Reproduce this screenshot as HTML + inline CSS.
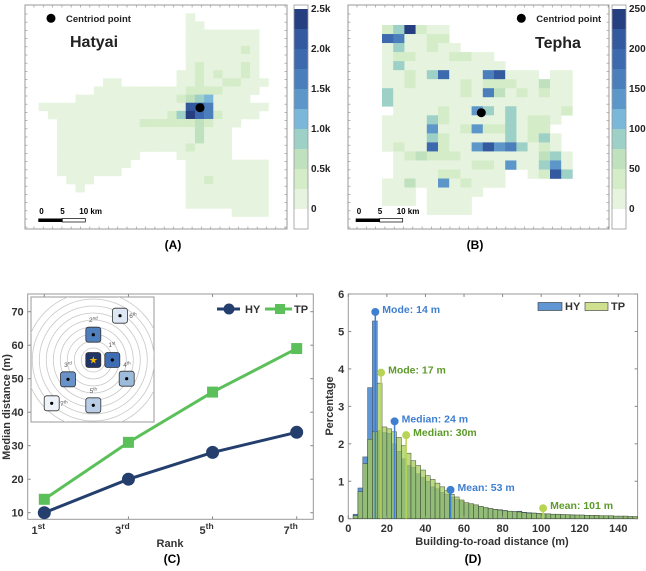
<!DOCTYPE html>
<html><head><meta charset="utf-8"><style>
html,body{margin:0;padding:0;background:#fff;}
svg{display:block;font-family:"Liberation Sans",sans-serif;}
</style></head><body>
<svg id="fig" width="646" height="571" viewBox="0 0 646 571" xmlns="http://www.w3.org/2000/svg">
<g id="pA"></g>
<g id="pB"></g>
<g id="pC"></g>
<g id="pD"></g>
</svg>
<script>
// ---------- data ----------
const levelColors = ['#ffffff','#e6f4df','#d5ecc9','#bfe1bd','#9dd0c6','#7ab7d8','#5d97c9','#4a7fbb','#3d6aaf','#33599f','#253f80'];
const hyRows = [
".................1........",
".................11.......",
".................11111111.",
".................11111111.",
".................11111121.",
".................11111111.",
".................12111121.",
"................112121121.",
"........11......1121122111",
".......111111111122221111.",
".....1111111111123451111..",
".1111111111111111997111111",
"..11111111111112408721111.",
"...11111111122222232111...",
"...1111111111111113111....",
"...1111111111111113111....",
"...1111111111111121111....",
"...111111111....111111....",
"...11111111......111111111",
"...1111111.......111111111",
"....111..........112111111",
".....1...........111111111",
".................111111111",
".................111111111",
"......................1111"];
const tpRows = [
"240211...........",
"871122...........",
"1411211..........",
"1221112211.......",
"14111111111......",
"11214811179111.11",
"11211112122211311",
"41111112173121211",
"41111111111111111",
".1111211641411112",
"1111421111141221.",
"111161126224122..",
"1111421111141241.",
"1211821169674121.",
".1232221111111341",
".1111111221611461",
".1111221111..1294",
"11311612111......",
"111.11111........",
"111.1111.........",
"....1111........."];
const rankLabels = ['1st','3rd','5th','7th'];
const rankVals = [1,3,5,7];
const hyMedian = [10,20,28,34];
const tpMedian = [14,31,46,59];
const hyHist = [0,0.12,0.82,1.65,3.5,5.28,2.35,2.3,2.28,2.0,1.8,1.6,1.42,1.37,1.2,1.1,1.0,0.85,0.8,0.7,0.65,0.58,0.52,0.47,0.4,0.38,0.35,0.32,0.28,0.27,0.25,0.24,0.22,0.2,0.19,0.2,0.17,0.16,0.15,0.14,0.13,0.12,0.12,0.11,0.11,0.1,0.1,0.09,0.09,0.09,0.08,0.08,0.07,0.07,0.07,0.06,0.06,0.05,0.05,0.04];
const tpHist = [0,0.08,0.72,1.47,2.12,2.32,3.62,2.45,2.4,2.32,2.17,1.95,1.75,1.55,1.42,1.3,1.15,1.05,0.95,0.85,0.75,0.65,0.58,0.5,0.43,0.4,0.37,0.33,0.3,0.27,0.25,0.23,0.21,0.2,0.19,0.18,0.16,0.15,0.15,0.14,0.13,0.13,0.12,0.12,0.11,0.11,0.1,0.1,0.1,0.09,0.09,0.09,0.08,0.08,0.08,0.07,0.07,0.07,0.06,0.06];
const binWidth = 2.5;
const statsX = [14,17,24,30,53,101];
const statsY = [5.52,3.9,2.6,2.23,0.77,0.28];
const statsLabels = ['Mode: 14 m','Mode: 17 m','Median: 24 m','Median: 30m','Mean: 53 m','Mean: 101 m'];
const statsSeries = ['HY','TP','HY','TP','HY','TP'];

const NS='http://www.w3.org/2000/svg';
function mk(parent,tag,attrs,text){const e=document.createElementNS(NS,tag);for(const k in attrs)e.setAttribute(k,attrs[k]);if(text!==undefined)e.textContent=text;parent.appendChild(e);return e;}

function drawMap(g, rows, x0, y0, cw, ch, box, cbX, cbLabels, dot, legendX, legendY, title, titleX, titleY, sbX, panel, panelX){
  let el;
  el=mk(g,'rect',{x:box[0],y:box[1],width:box[2]-box[0],height:box[3]-box[1],fill:'#fff',stroke:'#999','stroke-width':1});
  
  
  rows.forEach((row,r)=>{
    for(let c=0;c<row.length;c++){
      const ch0=row[c]; if(ch0==='.')continue;
      const lv = ch0==='0'?10:parseInt(ch0);
      const cell=mk(g,'rect',{x:(x0+c*cw).toFixed(2),y:(y0+r*ch).toFixed(2),width:(cw+0.3).toFixed(2),height:(ch+0.3).toFixed(2),fill:levelColors[lv]});
      
      
    }
  });
  for(let x=box[0]+9;x<box[2];x+=9.3){mk(g,'line',{x1:x,y1:box[1],x2:x,y2:box[1]+2.5,stroke:'#999','stroke-width':0.7});mk(g,'line',{x1:x,y1:box[3],x2:x,y2:box[3]-2.5,stroke:'#999','stroke-width':0.7});}
  for(let y=box[1]+9;y<box[3];y+=8.2){mk(g,'line',{x1:box[0],y1:y,x2:box[0]+2.5,y2:y,stroke:'#999','stroke-width':0.7});mk(g,'line',{x1:box[2],y1:y,x2:box[2]-2.5,y2:y,stroke:'#999','stroke-width':0.7});}
  el=mk(g,'circle',{cx:dot[0],cy:dot[1],r:4.5,fill:'#000'});
  
  
  el=mk(g,'circle',{cx:legendX,cy:legendY,r:4.5,fill:'#000'});
  
  
  el=mk(g,'text',{x:legendX+15,y:legendY+3.5,'font-size':'9.5','font-weight':'bold',fill:'#222'},'Centriod point');
  
  
  el=mk(g,'text',{x:titleX,y:titleY,'font-size':'16','font-weight':'bold',fill:'#222'},title);
  
  
  el=mk(g,'g',{});
  
  
  mk(el,'rect',{x:sbX,y:218.5,width:24,height:3.5,fill:'#000'});
  mk(el,'rect',{x:sbX+24,y:218.5,width:23,height:3.5,fill:'#fff',stroke:'#000','stroke-width':0.7});
  mk(el,'text',{x:sbX+1,y:214,'font-size':'8','font-weight':'bold'},'0');
  mk(el,'text',{x:sbX+22,y:214,'font-size':'8','font-weight':'bold'},'5');
  mk(el,'text',{x:sbX+41,y:214,'font-size':'8','font-weight':'bold'},'10 km');
  const cb=mk(g,'g',{});
  
  
  mk(cb,'rect',{x:cbX,y:209,width:14,height:20,fill:'#fff'});
  for(let i=1;i<=10;i++){mk(cb,'rect',{x:cbX,y:209-i*20,width:14,height:20,fill:levelColors[i]});}
  mk(cb,'rect',{x:cbX,y:5,width:14,height:224,fill:'none',stroke:'#999','stroke-width':0.8});
  cbLabels.forEach((t,i)=>{mk(cb,'text',{x:cbX+17,y:212-i*40,'font-size':'10','font-weight':'bold',fill:'#222'},t);});
  el=mk(g,'text',{x:panelX,y:249,'font-size':'12','font-weight':'bold','text-anchor':'middle'},panel);
  
  
}
drawMap(document.getElementById('pA'),hyRows,29.5,13.3,9.19,8.13,[25,5,287,229],294,['0','0.5k','1.0k','1.5k','2.0k','2.5k'],[200,107.7],51,18.3,'Hatyai',70,47,38.3,'(A)',173);
drawMap(document.getElementById('pB'),tpRows,382,25,11.2,9.03,[348,5,609,229],612,['0','50','100','150','200','250'],[481.3,112.7],521.3,18.3,'Tepha',535,48,355.7,'(B)',475);

(function(){
  const g=document.getElementById('pC');
  const L=27.7,T=294,R=313.3,B=519.3;
  const xs=r=>44.3+(r-1)*(296.7-44.3)/6;
  const ys=v=>512.7-(v-10)*(512.7-311.7)/60;
  let el=mk(g,'rect',{x:L,y:T,width:R-L,height:B-T,fill:'#fff',stroke:'#999','stroke-width':1});
  
  
  for(let v=10;v<=70;v+=10){
    mk(g,'line',{x1:L,y1:ys(v),x2:L+3,y2:ys(v),stroke:'#888'});mk(g,'line',{x1:R,y1:ys(v),x2:R-3,y2:ys(v),stroke:'#888'});
    el=mk(g,'text',{x:L-4,y:ys(v)+4,'font-size':'11','font-weight':'bold','text-anchor':'end',fill:'#333'},String(v));
    
    
  }
  rankVals.forEach((r,i)=>{
    mk(g,'line',{x1:xs(r),y1:B,x2:xs(r),y2:B-3,stroke:'#888'});mk(g,'line',{x1:xs(r),y1:T,x2:xs(r),y2:T+3,stroke:'#888'});
    const t=mk(g,'text',{x:xs(r)-6,y:534,'font-size':'11','font-weight':'bold','text-anchor':'middle',fill:'#333'});
    
    
    const n=rankLabels[i];
    t.appendChild(document.createTextNode(n.replace(/\D/g,'')));
    mk(t,'tspan',{dy:-5,'font-size':'8.5'},n.replace(/\d/g,''));
  });
  el=mk(g,'text',{x:170,y:547,'font-size':'11','font-weight':'bold','text-anchor':'middle',fill:'#333'},'Rank');
  
  
  el=mk(g,'text',{x:0,y:0,'font-size':'11','font-weight':'bold','text-anchor':'middle',fill:'#333',transform:'translate(10,407) rotate(-90)'},'Median distance (m)');
  
  
  const ins=mk(g,'g',{});
  
  
  mk(ins,'rect',{x:31,y:297,width:123,height:125,fill:'#fff',stroke:'#999','stroke-width':1});
  const cx=93.3,cy=360;
  const clip=mk(ins,'clipPath',{id:'insclip'});mk(clip,'rect',{x:31,y:297,width:123,height:125});
  const rg=mk(ins,'g',{'clip-path':'url(#insclip)'});
  for(let r=12;r<=68;r+=7)mk(rg,'circle',{cx:cx,cy:cy,r:r,fill:'none',stroke:'#c8c8c8','stroke-width':0.8});
  const cells=[[0,0,'#1f3567','★'],[19,0,'#3e6db3','•'],[0,-25.3,'#4f80bd','•'],[-25.3,19.3,'#6993c8','•'],[33.4,18.7,'#9dbcdc','•'],[0,45.3,'#b9cde6','•'],[26.7,-44.3,'#dde8f4','•'],[-41.6,43.3,'#eef3fa','•']];
  cells.forEach(c=>{
    const x=cx+c[0],y=cy+c[1];
    mk(ins,'rect',{x:x-7.5,y:y-7.5,width:15,height:15,rx:2.5,fill:c[2],stroke:'#333','stroke-width':0.8});
    if(c[3]==='★')mk(ins,'text',{x:x,y:y+3.5,'font-size':'10','text-anchor':'middle',fill:'#f5b800'},'★');
    else mk(ins,'circle',{cx:x,cy:y,r:1.6,fill:'#000'});
  });
  const lab=[[112,347,'1st'],[93.3,322,'2nd'],[68,367,'3rd'],[127,367,'4th'],[93.3,393,'5th'],[133,318,'6th'],[64,406,'7th']];
  lab.forEach(l=>{const t=mk(ins,'text',{x:l[0],y:l[1],'font-size':'6.5','text-anchor':'middle',fill:'#555'});t.appendChild(document.createTextNode(l[2][0]));mk(t,'tspan',{dy:-2.5,'font-size':'4.5'},l[2].slice(1));});
  function series(vals,color,shape,name){
    const sg=mk(g,'g',{});
    
    
    mk(sg,'polyline',{points:rankVals.map((r,i)=>xs(r)+','+ys(vals[i])).join(' '),fill:'none',stroke:color,'stroke-width':3});
    rankVals.forEach((r,i)=>{
      let m;
      if(shape==='c')m=mk(sg,'circle',{cx:xs(r),cy:ys(vals[i]),r:6.5,fill:color});
      else m=mk(sg,'rect',{x:xs(r)-5.5,y:ys(vals[i])-5.5,width:11,height:11,fill:color});
      
      
    });
  }
  series(tpMedian,'#5cc05a','s','series-tp');
  series(hyMedian,'#243f6e','c','series-hy');
  const lg=mk(g,'g',{});
  
  
  mk(lg,'line',{x1:217,y1:309,x2:240,y2:309,stroke:'#243f6e','stroke-width':3});
  mk(lg,'circle',{cx:229,cy:309,r:5.5,fill:'#243f6e'});
  mk(lg,'text',{x:245,y:313,'font-size':'11','font-weight':'bold',fill:'#333'},'HY');
  mk(lg,'line',{x1:265,y1:309,x2:292,y2:309,stroke:'#5cc05a','stroke-width':3});
  mk(lg,'rect',{x:275,y:304,width:10,height:10,fill:'#5cc05a'});
  mk(lg,'text',{x:294,y:313,'font-size':'11','font-weight':'bold',fill:'#333'},'TP');
  el=mk(g,'text',{x:172,y:563,'font-size':'12','font-weight':'bold','text-anchor':'middle'},'(C)');
  
  
})();

(function(){
  const g=document.getElementById('pD');
  const L=348.3,T=294,R=637.6,B=518.7;
  const xs=v=>L+v*(R-L)/150;
  const ys=v=>B-v*(B-T)/6;
  let el=mk(g,'rect',{x:L,y:T,width:R-L,height:B-T,fill:'#fff',stroke:'#999','stroke-width':1});
  
  
  hyHist.forEach((v,i)=>{
    if(v<=0)return;
    const b=mk(g,'rect',{x:xs(i*binWidth),y:ys(v),width:xs(binWidth)-xs(0),height:B-ys(v),fill:'#6196d4',stroke:'#3a4a5a','stroke-width':0.5});
    
    
  });
  tpHist.forEach((v,i)=>{
    if(v<=0)return;
    const b=mk(g,'rect',{x:xs(i*binWidth),y:ys(v),width:xs(binWidth)-xs(0),height:B-ys(v),fill:'rgb(165,202,85)','fill-opacity':0.72,stroke:'#3a4a3a','stroke-width':0.5});
    
    
  });
  statsX.forEach((x,i)=>{
    const c=statsSeries[i]==='HY'?'#3f7fd0':'#b8d454';
    const tc=statsSeries[i]==='HY'?'#3f7fd0':'#5c9a2a';
    const sg=mk(g,'g',{});
    
    
    mk(sg,'line',{x1:xs(x),y1:ys(statsY[i]),x2:xs(x),y2:B,stroke:c,'stroke-width':1.5});
    mk(sg,'circle',{cx:xs(x),cy:ys(statsY[i]),r:4,fill:c});
    mk(sg,'text',{x:xs(x)+7,y:ys(statsY[i])+1,'font-size':'10.5','font-weight':'bold',fill:tc},statsLabels[i]);
  });
  for(let v=0;v<=6;v++){
    mk(g,'line',{x1:L,y1:ys(v),x2:L+3,y2:ys(v),stroke:'#888'});mk(g,'line',{x1:R,y1:ys(v),x2:R-3,y2:ys(v),stroke:'#888'});
    el=mk(g,'text',{x:L-4,y:ys(v)+4,'font-size':'11','font-weight':'bold','text-anchor':'end',fill:'#333'},String(v));
    
    
  }
  for(let v=0;v<=140;v+=20){
    mk(g,'line',{x1:xs(v),y1:B,x2:xs(v),y2:B-3,stroke:'#888'});mk(g,'line',{x1:xs(v),y1:T,x2:xs(v),y2:T+3,stroke:'#888'});
    el=mk(g,'text',{x:xs(v),y:532,'font-size':'11','font-weight':'bold','text-anchor':'middle',fill:'#333'},String(v));
    
    
  }
  el=mk(g,'text',{x:492,y:545,'font-size':'11','font-weight':'bold','text-anchor':'middle',fill:'#333'},'Building-to-road distance (m)');
  
  
  el=mk(g,'text',{x:0,y:0,'font-size':'11','font-weight':'bold','text-anchor':'middle',fill:'#333',transform:'translate(333,406) rotate(-90)'},'Percentage');
  
  
  const lg=mk(g,'g',{});
  
  
  mk(lg,'rect',{x:538,y:302.5,width:24,height:8,fill:'#6196d4',stroke:'#333','stroke-width':0.6});
  mk(lg,'text',{x:565,y:310,'font-size':'11','font-weight':'bold',fill:'#333'},'HY');
  mk(lg,'rect',{x:585,y:302.5,width:23,height:8,fill:'#cfe08e',stroke:'#333','stroke-width':0.6});
  mk(lg,'text',{x:611,y:310,'font-size':'11','font-weight':'bold',fill:'#333'},'TP');
  el=mk(g,'text',{x:473,y:563,'font-size':'12','font-weight':'bold','text-anchor':'middle'},'(D)');
  
  
})();
</script>
</body></html>
